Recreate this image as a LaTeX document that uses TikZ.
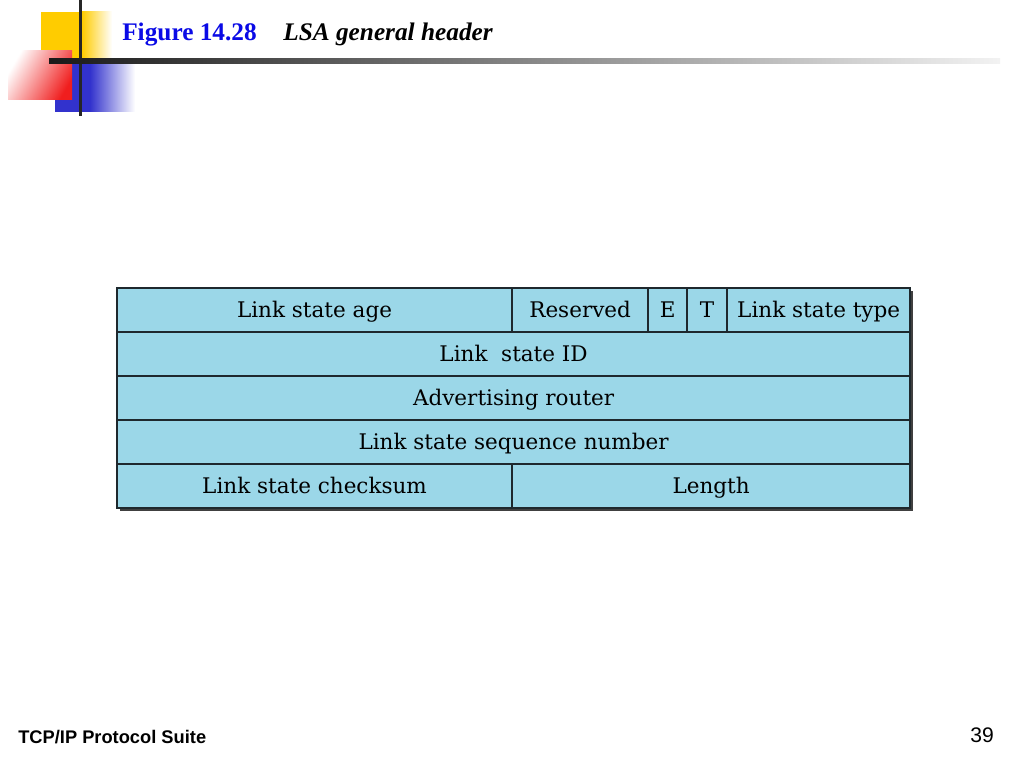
\documentclass[tikz,border=0pt]{standalone}
\usepackage{fontspec}
\setmainfont{Liberation Serif}
\newfontfamily\cellfont{DejaVu Serif}
\newfontfamily\footfont{Liberation Sans}
\usepackage{xcolor}
\usepackage{tikz}
\usetikzlibrary{positioning}
\definecolor{cellblue}{RGB}{155,215,232}
\definecolor{cellline}{RGB}{30,40,45}
\definecolor{titleblue}{RGB}{10,10,230}
\definecolor{decoyellow}{RGB}{255,204,0}
\definecolor{decored}{RGB}{240,30,30}
\definecolor{decoblue}{RGB}{50,50,205}
\tikzset{
  field/.style={
    rectangle, draw=cellline, fill=cellblue, line width=1.1pt,
    minimum height=1.1cm, inner sep=0pt, outer sep=0pt,
    text height=11pt, text depth=0pt,
    text centered, font=\cellfont\fontsize{15.3}{18}\selectfont, text=black
  },
  wide/.style={field, minimum width=19.825cm},
  title/.style={anchor=base west, inner sep=0pt, font=\fontsize{18}{22}\selectfont\bfseries},
  foot/.style={anchor=base west, inner sep=0pt, font=\footfont\fontsize{13}{16}\selectfont}
}
\begin{document}
\begin{tikzpicture}[x=0.025cm, y=-0.025cm]
  \useasboundingbox[fill=white] (0,0) rectangle (1024,768);

  % corner decoration
  \fill[decoyellow] (41,12) rectangle (82,60);
  \shade[left color=decoyellow, right color=white] (82,12) rectangle (112,60);
  \fill[decoblue] (55,62) rectangle (90,112);
  \shade[left color=decoblue, right color=white] (90,62) rectangle (135,112);
  \shade[left color=white, right color=decored, shading angle=60] (8,51) rectangle (72,100);
  \fill[black!85] (79,0) rectangle (82,116);
  \shade[left color=black!90, right color=black!5] (49,59) rectangle (1000,64);

  % title
  \node[title, text=titleblue] (fignum) at (122,41) {Figure 14.28};
  \node[title, text=black, font=\fontsize{18}{22}\selectfont\bfseries\itshape] (figname) at (283,41) {LSA general header};

  % shadow
  \fill[black!75] (120,291) rectangle (913,511);

  % header fields
  \node[field, minimum width=9.875cm, anchor=north west] (age) at (117,288) {Link state age};
  \node[field, minimum width=3.4cm, right=0pt of age] (reserved) {Reserved};
  \node[field, minimum width=0.975cm, right=0pt of reserved] (ebit) {E};
  \node[field, minimum width=1cm, right=0pt of ebit] (tbit) {T};
  \node[field, minimum width=4.575cm, right=0pt of tbit] (type) {Link state type};
  \node[wide, anchor=north west] (lsid) at (age.south west) {Link\ \ state ID};
  \node[wide, below=0pt of lsid] (router) {Advertising router};
  \node[wide, below=0pt of router] (seqnum) {Link state sequence number};
  \node[field, minimum width=9.875cm, anchor=north west] (checksum) at (seqnum.south west) {Link state checksum};
  \node[field, minimum width=9.95cm, right=0pt of checksum] (length) {Length};

  % footer
  \node[foot, font=\footfont\fontsize{13}{16}\selectfont\bfseries] (suite) at (18,743) {TCP/IP Protocol Suite};
  \node[foot, font=\footfont\fontsize{15}{18}\selectfont] (page) at (970,742) {39};
\end{tikzpicture}
\end{document}
